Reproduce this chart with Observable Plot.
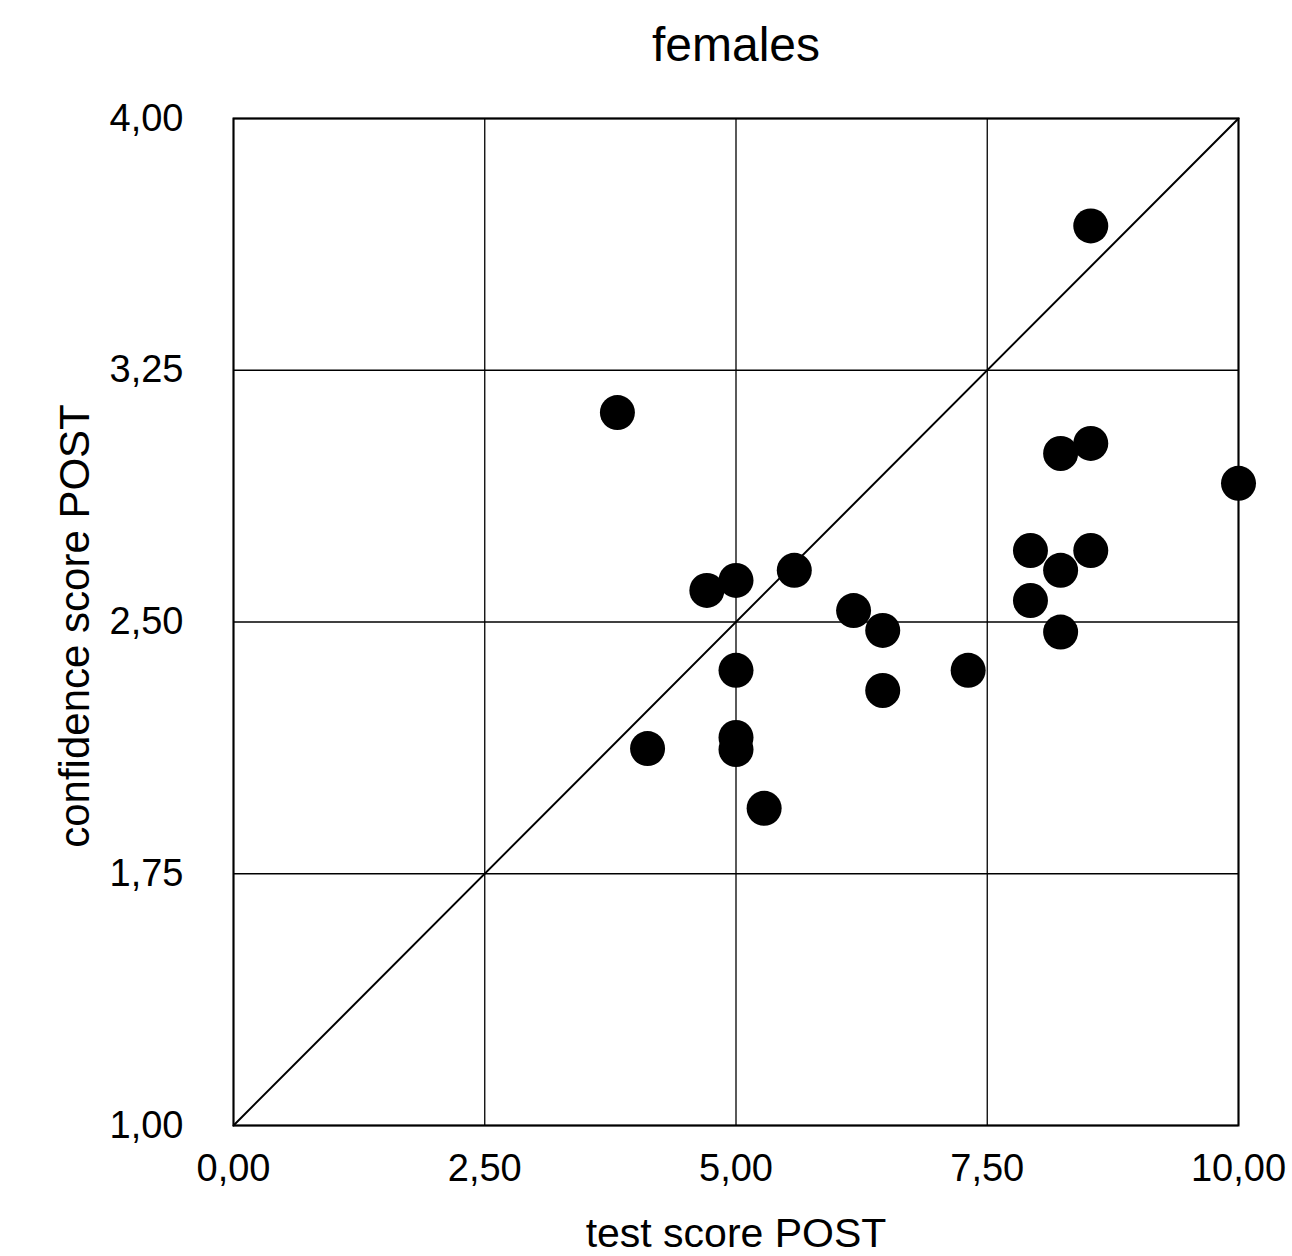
<!DOCTYPE html>
<html>
<head>
<meta charset="utf-8">
<script src="https://cdn.jsdelivr.net/npm/d3@7"></script>
<script src="https://cdn.jsdelivr.net/npm/@observablehq/plot@0.6"></script>
<style>
  html, body { margin: 0; padding: 0; background: #fff; }
  #chart svg { overflow: visible; display: block; }
</style>
</head>
<body>
<div id="chart"></div>
<script>
const title = "females";
const xLabel = "test score POST";
const yLabel = "confidence score POST";
const xTicks = [0, 2.5, 5, 7.5, 10];
const yTicks = [1, 1.75, 2.5, 3.25, 4];
const testScore = [8.53, 3.82, 8.23, 8.53, 10.0, 7.93, 8.53, 8.23, 7.93, 8.23, 5.58, 5.0, 4.71, 6.17, 6.46, 5.0, 7.31, 6.46, 4.12, 5.0, 5.0, 5.28];
const confidence = [3.68, 3.124, 3.002, 3.032, 2.913, 2.713, 2.713, 2.654, 2.564, 2.470, 2.654, 2.624, 2.594, 2.534, 2.475, 2.356, 2.356, 2.296, 2.123, 2.156, 2.12, 1.945];
const diagX = [0, 10];
const diagY = [1, 4];

const points = testScore.map((x, i) => ({x, y: confidence[i]}));
const diag = diagX.map((x, i) => ({x, y: diagY[i]}));
const fmt = d => d.toFixed(2).replace(".", ",");
const font = "'Liberation Sans', Arial, Helvetica, sans-serif";

const chart = Plot.plot({
  width: 1292,
  height: 1256,
  marginLeft: 233,
  marginRight: 54,
  marginTop: 118,
  marginBottom: 131,
  style: {fontFamily: font, color: "#000", background: "#fff"},
  x: {domain: [0, 10]},
  y: {domain: [1, 4]},
  marks: [
    Plot.gridX(xTicks, {stroke: "#000", strokeOpacity: 1, strokeWidth: 1.3}),
    Plot.gridY(yTicks, {stroke: "#000", strokeOpacity: 1, strokeWidth: 1.3}),
    Plot.frame({stroke: "#000", strokeWidth: 2}),
    Plot.line(diag, {x: "x", y: "y", stroke: "#000", strokeWidth: 2}),
    Plot.dot(points, {x: "x", y: "y", r: 17.5, fill: "#000", stroke: "none"}),
    Plot.axisX(xTicks, {tickSize: 0, tickPadding: 29, tickFormat: fmt, fontSize: 38, label: null}),
    Plot.axisY(yTicks, {tickSize: 0, tickPadding: 50, tickFormat: fmt, fontSize: 38, label: null}),
    Plot.text([title], {frameAnchor: "top", lineAnchor: "middle", dy: -73, fontSize: 48, fill: "#000"}),
    Plot.text([xLabel], {frameAnchor: "bottom", lineAnchor: "middle", dy: 108, fontSize: 41, fill: "#000"}),
    Plot.text([yLabel], {frameAnchor: "left", textAnchor: "middle", lineAnchor: "middle", dx: -158, dy: 4, rotate: -90, fontSize: 42, fill: "#000"})
  ]
});
document.getElementById("chart").appendChild(chart);
</script>
</body>
</html>
